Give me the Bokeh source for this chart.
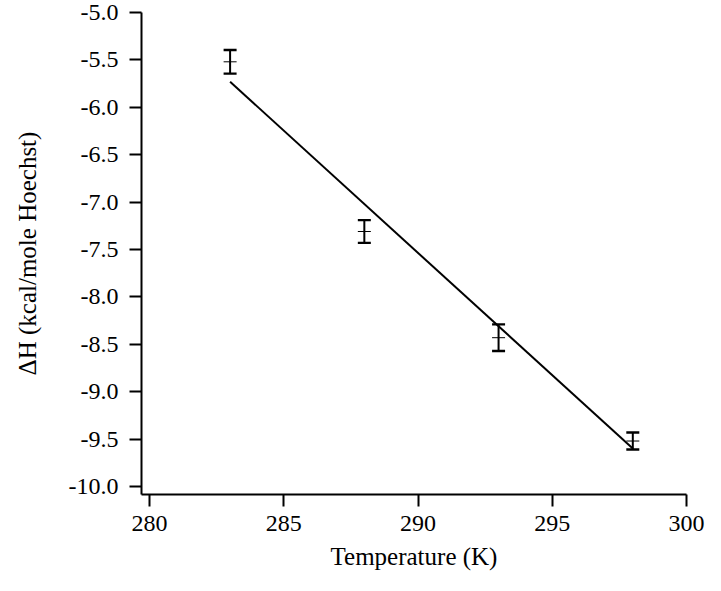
from bokeh.plotting import figure
from bokeh.models import ColumnDataSource, FixedTicker, PrintfTickFormatter, Whisker, TeeHead, Range1d
from bokeh.embed import file_html
from bokeh.resources import INLINE

# data
temperature = [283, 288, 293, 298]
delta_h = [-5.52, -7.31, -8.43, -9.52]
delta_h_err = [0.125, 0.12, 0.14, 0.09]
fit_x = [283, 298]
fit_y = [-5.73, -9.60]
x_ticks = [280, 285, 290, 295, 300]
y_ticks = [-5.0, -5.5, -6.0, -6.5, -7.0, -7.5, -8.0, -8.5, -9.0, -9.5, -10.0]

FONT = "Liberation Serif"

p = figure(width=705, height=575, output_backend="svg", toolbar_location=None,
           x_range=Range1d(279.7, 300), y_range=Range1d(-10.084, -5.0),
           min_border_left=141, min_border_right=19, min_border_top=12, min_border_bottom=81)
p.outline_line_color = None
p.xgrid.visible = False
p.ygrid.visible = False
p.background_fill_color = "white"
p.border_fill_color = "white"

src = ColumnDataSource(dict(
    x=temperature, y=delta_h,
    upper=[v + e for v, e in zip(delta_h, delta_h_err)],
    lower=[v - e for v, e in zip(delta_h, delta_h_err)],
))

p.line(fit_x, fit_y, line_color="black", line_width=2)

wh = Whisker(base="x", upper="upper", lower="lower", source=src,
             line_color="black", line_width=2,
             upper_head=TeeHead(size=13, line_width=2.4, line_color="black"),
             lower_head=TeeHead(size=13, line_width=2.4, line_color="black"))
p.add_layout(wh)
p.scatter("x", "y", source=src, marker="dash", size=13, line_color="black", line_width=1)

for ax in (p.xaxis[0], p.yaxis[0]):
    ax.axis_line_width = 2
    ax.axis_line_color = "black"
    ax.major_tick_line_width = 2
    ax.major_tick_line_color = "black"
    ax.major_tick_out = 12
    ax.major_tick_in = 0
    ax.minor_tick_out = 0
    ax.minor_tick_in = 0
    ax.major_label_text_font = FONT
    ax.major_label_text_font_size = "24px"
    ax.major_label_text_color = "black"
    ax.axis_label_text_font = FONT
    ax.axis_label_text_font_size = "25px"
    ax.axis_label_text_font_style = "normal"
    ax.axis_label_text_color = "black"

p.xaxis[0].ticker = FixedTicker(ticks=x_ticks)
p.yaxis[0].ticker = FixedTicker(ticks=y_ticks)
p.yaxis[0].formatter = PrintfTickFormatter(format="%.1f")
p.xaxis[0].axis_label = "Temperature (K)"
p.yaxis[0].axis_label = "\u0394H (kcal/mole Hoechst)"
p.xaxis[0].major_label_standoff = 9
p.yaxis[0].major_label_standoff = 11
p.xaxis[0].axis_label_standoff = 9
p.yaxis[0].axis_label_standoff = 25

open("out.html", "w").write(file_html(p, INLINE))
